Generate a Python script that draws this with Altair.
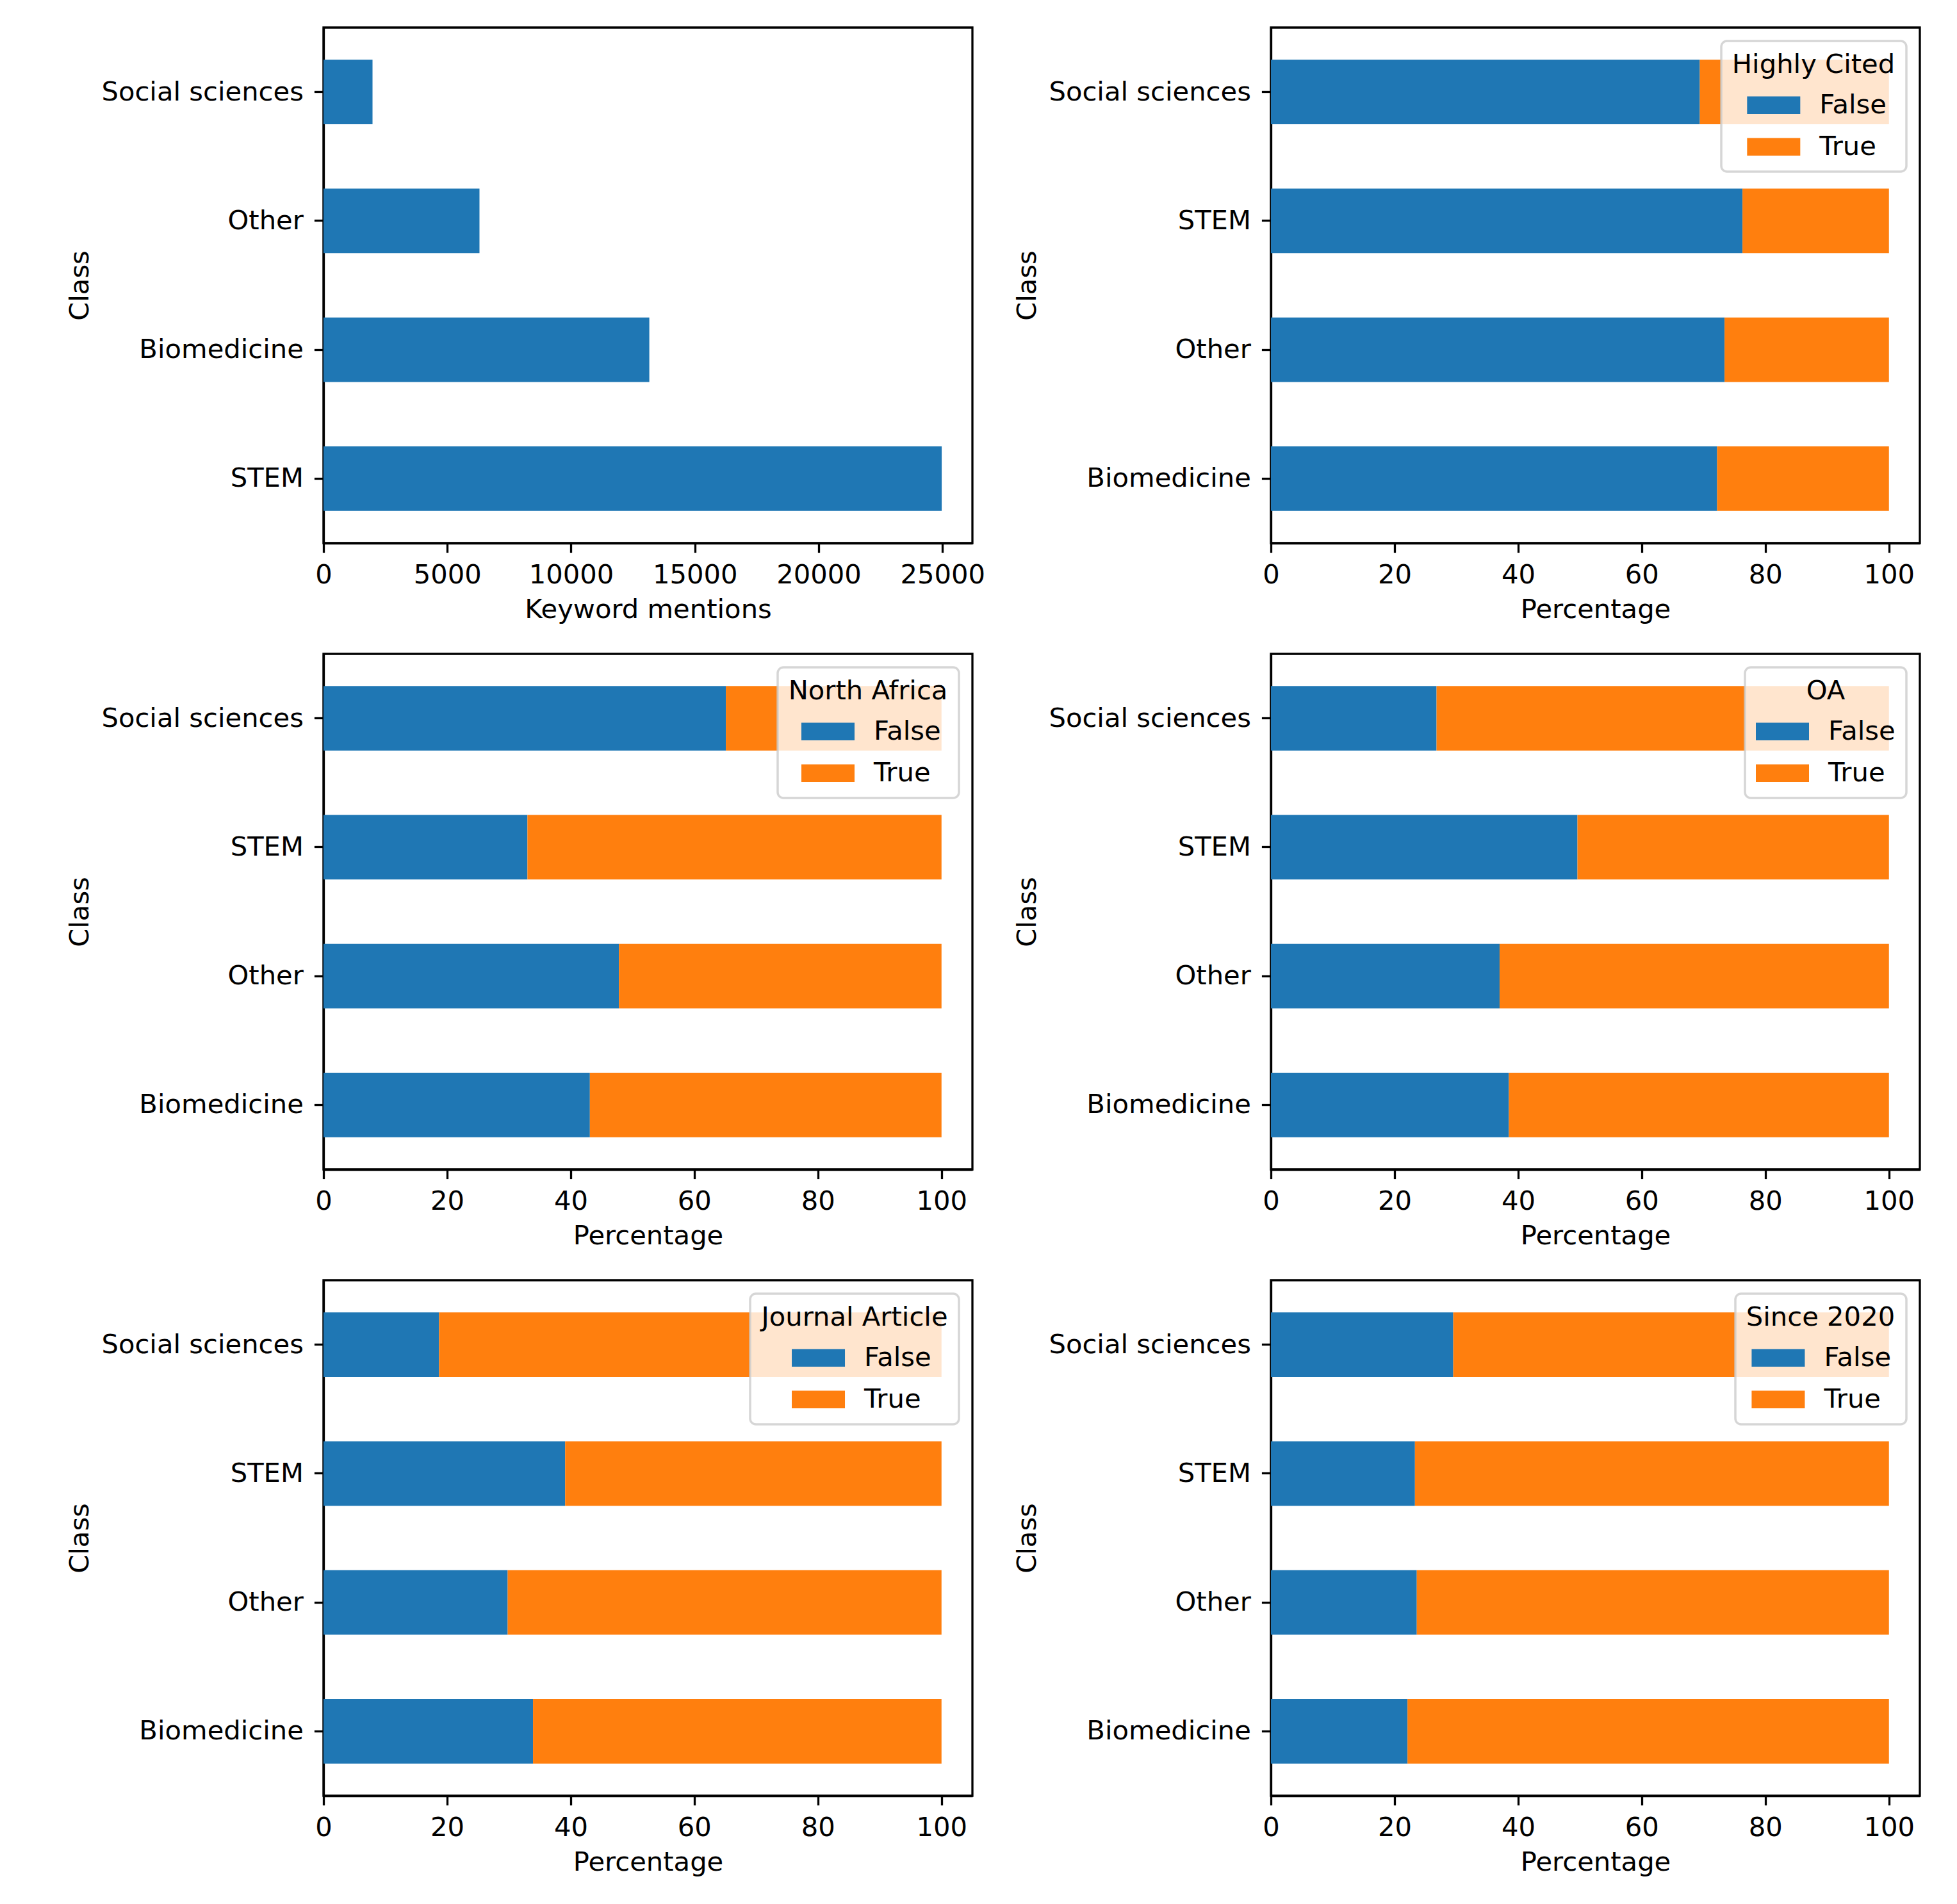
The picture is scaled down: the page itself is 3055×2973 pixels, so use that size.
import altair as alt
import pandas as pd

# ---------------- data ----------------
MENTION_CLASSES = ["STEM", "Biomedicine", "Other", "Social sciences"]
MENTION_COUNTS = [24970, 13160, 6300, 1980]
MENTION_ORDER = ["Social sciences", "Other", "Biomedicine", "STEM"]

PCT_CLASSES = ["Biomedicine", "Other", "STEM", "Social sciences"]
PCT_ORDER = ["Social sciences", "STEM", "Other", "Biomedicine"]
HIGHLY_CITED_FALSE = [72.2, 73.4, 76.3, 69.4]
NORTH_AFRICA_FALSE = [43.1, 47.8, 33.0, 65.1]
OA_FALSE = [38.5, 37.0, 49.6, 26.8]
JOURNAL_ARTICLE_FALSE = [33.9, 29.8, 39.1, 18.7]
SINCE_2020_FALSE = [22.1, 23.6, 23.3, 29.5]

PANELS = [
    ("Highly Cited", HIGHLY_CITED_FALSE),
    ("North Africa", NORTH_AFRICA_FALSE),
    ("OA", OA_FALSE),
    ("Journal Article", JOURNAL_ARTICLE_FALSE),
    ("Since 2020", SINCE_2020_FALSE),
]

COUNT_TICKS = [0, 5000, 10000, 15000, 20000, 25000]
PCT_TICKS = [0, 20, 40, 60, 80, 100]

# ---------------- style ----------------
FS = 41.7
W, H = 1013, 805
BLUE, ORANGE = "#1f77b4", "#ff7f0e"
FONT = "DejaVu Sans"
RECT = "M-1,-0.33L1,-0.33L1,0.33L-1,0.33Z"

# DejaVu Sans advance widths (units of 2048) for centring legend entries
ADV = {" ": 651, "A": 1401, "C": 1430, "H": 1540, "J": 604, "N": 1532, "O": 1612,
       "S": 1300, "F": 1178, "T": 1251, "a": 1255, "c": 1126, "d": 1300, "e": 1260,
       "f": 721, "g": 1300, "h": 1298, "i": 569, "l": 569, "n": 1298, "o": 1253,
       "r": 842, "s": 1067, "t": 803, "u": 1298, "y": 1212}


def text_w(s):
    return sum(ADV.get(ch, 1303) for ch in s) / 2048 * FS


ENTRY_W = 83 + 30 + text_w("False")

yscale = alt.Scale(paddingInner=0.5, paddingOuter=0.25)
yaxis = alt.Axis(titleX=-359, titleBaseline="bottom", titleAngle=270)

# panel 1
df_count = pd.DataFrame({"Class": MENTION_CLASSES, "count": MENTION_COUNTS})
count_chart = alt.Chart(df_count).mark_bar(color=BLUE).encode(
    x=alt.X("count:Q", title="Keyword mentions",
            scale=alt.Scale(domain=[0, 26210], nice=False, zero=True),
            axis=alt.Axis(values=COUNT_TICKS, format="d")),
    y=alt.Y("Class:N", title="Class", sort=MENTION_ORDER, scale=yscale, axis=yaxis),
).properties(width=W, height=H)

charts = [count_chart]
for title, false_vals in PANELS:
    rows = []
    for c, f in zip(PCT_CLASSES, false_vals):
        rows.append({"Class": c, "Value": "False", "pct": f})
        rows.append({"Class": c, "Value": "True", "pct": round(100 - f, 1)})
    df = pd.DataFrame(rows)
    so = max(0.0, (text_w(title) - ENTRY_W) / 2) / 1.6
    ch = alt.Chart(df).mark_bar().encode(
        x=alt.X("pct:Q", title="Percentage", stack="zero",
                scale=alt.Scale(domain=[0, 105], nice=False),
                axis=alt.Axis(values=PCT_TICKS)),
        y=alt.Y("Class:N", title="Class", sort=PCT_ORDER, scale=yscale, axis=yaxis),
        color=alt.Color("Value:N",
                        scale=alt.Scale(domain=["False", "True"], range=[BLUE, ORANGE]),
                        legend=alt.Legend(title=title, orient="top-right",
                                          symbolOffset=so, labelOffset=30)),
        order=alt.Order("Value:N", sort="ascending"),
    ).properties(width=W, height=H)
    charts.append(ch)

chart = alt.concat(*charts, columns=2, spacing={"row": 173, "column": 466},
                   bounds="flush").resolve_scale(
    color="independent", x="independent", y="independent"
).resolve_legend(color="independent").properties(
    padding={"left": 94, "top": 33, "right": 20, "bottom": 20}
).configure(font=FONT).configure_view(
    stroke="black", strokeWidth=3.3, fill="white"
).configure_axis(
    labelFont=FONT, labelFontSize=FS, labelColor="black",
    titleFont=FONT, titleFontSize=FS, titleFontWeight="normal", titleColor="black",
    domainColor="black", domainWidth=3.3, tickColor="black", tickWidth=3.3,
    tickSize=14.6, labelPadding=15, grid=False, zindex=1,
    labelFlush=False, labelOverlap=False, labelLimit=1000,
).configure_axisX(titlePadding=12).configure_axisY(
    labelPadding=17
).configure_legend(
    titleFont=FONT, titleFontSize=FS, titleFontWeight="normal", titleColor="black",
    titleAnchor="middle", titleLimit=1000, titlePadding=0,
    labelFont=FONT, labelFontSize=FS, labelColor="black", labelLimit=1000,
    symbolType=RECT, symbolSize=6889, symbolStrokeWidth=0, symbolOpacity=1,
    rowPadding=1, padding=17, offset=21,
    fillColor="rgba(255,255,255,0.8)", strokeColor="rgba(204,204,204,0.8)",
    strokeWidth=3.5, cornerRadius=9,
)

chart.save("out.html", embed_options={"renderer": "svg", "actions": False})
